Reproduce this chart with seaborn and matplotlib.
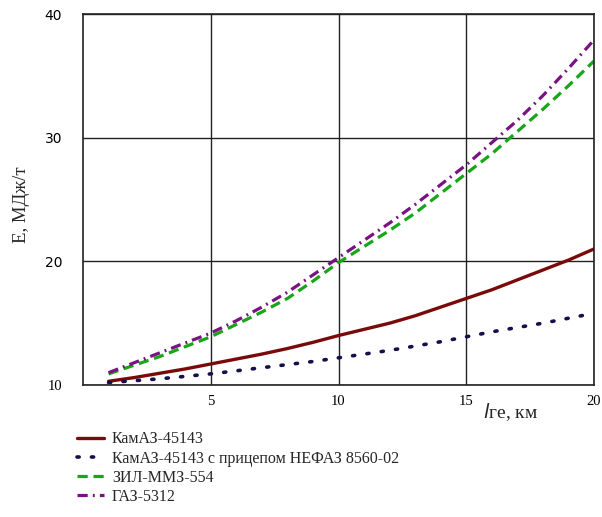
import matplotlib
matplotlib.use("Agg")
import matplotlib.pyplot as plt
import seaborn as sns
import pandas as pd

x_km = list(range(1, 21))
kamaz = [10.3, 10.6, 10.95, 11.3, 11.7, 12.1, 12.5, 12.95, 13.45, 14.0,
         14.5, 15.0, 15.6, 16.3, 17.0, 17.7, 18.5, 19.3, 20.1, 21.0]
kamaz_trailer = [10.2, 10.35, 10.5, 10.7, 10.9, 11.15, 11.4, 11.65, 11.9, 12.2,
                 12.5, 12.8, 13.15, 13.5, 13.9, 14.3, 14.65, 15.0, 15.4, 15.8]
zil = [10.9, 11.6, 12.3, 13.1, 13.9, 14.9, 15.9, 17.0, 18.4, 19.9,
       21.2, 22.5, 23.9, 25.5, 27.1, 28.7, 30.5, 32.3, 34.2, 36.2]
gaz = [11.0, 11.8, 12.6, 13.4, 14.2, 15.2, 16.3, 17.5, 18.9, 20.3,
       21.7, 23.1, 24.6, 26.2, 27.8, 29.6, 31.4, 33.4, 35.6, 37.9]
names = ["КамАЗ-45143", "КамАЗ-45143 с прицепом НЕФАЗ 8560-02", "ЗИЛ-ММЗ-554", "ГАЗ-5312"]
x_ticks = [5, 10, 15, 20]
y_ticks = [10, 20, 30, 40]

sns.set_theme(style="white")
plt.rcParams['font.family'] = ['Liberation Serif', 'DejaVu Serif']

fig = plt.figure(figsize=(6.02, 5.17), dpi=100)
ax = fig.add_axes([0.1379, 0.2553, 0.8488, 0.7176])

series = [kamaz, kamaz_trailer, zil, gaz]
styles = [
    dict(color="#7a0a0a", linestyle="-", linewidth=2.4),
    dict(color="#14104a", linestyle=(0, (0.6, 3.4)), linewidth=2.6, dash_capstyle="round"),
    dict(color="#17a617", linestyle=(0, (3.2, 1.8)), linewidth=2.3),
    dict(color="#7a1382", linestyle=(0, (3.2, 1.6, 0.6, 1.6)), linewidth=2.3),
]
handles = []
for name, vals, st in zip(names, series, styles):
    df = pd.DataFrame({"x": x_km, "y": vals})
    sns.lineplot(data=df, x="x", y="y", ax=ax, **st)
    handles.append(ax.lines[-1])

ax.set_xlim(0, 20)
ax.set_ylim(10, 40)
ax.set_xticks(x_ticks)
ax.set_yticks(y_ticks)
ax.grid(True, color="#222222", linewidth=1.0)
for s in ax.spines.values():
    s.set_color("#222222")
    s.set_linewidth(1.2)
    s.set_visible(True)
ax.tick_params(axis="both", length=0, labelsize=10.5, colors="black")
ax.tick_params(axis="y", pad=15)
ax.tick_params(axis="x", pad=7)
ax.set_xlabel("")
ax.set_ylabel("")
for lbl in ax.get_yticklabels():
    if lbl.get_text() != "10":
        lbl.set_family(["DejaVu Sans"])
        lbl.set_fontsize(10)

fig.text(0.036, 0.605, "Е, МДж/т", fontsize=13.5, rotation=90, ha="center", va="center")
fig.text(0.802, 0.203, "$\\mathit{l}$ге, км", fontsize=14, ha="left", va="center")

fig.legend(handles, names, loc="upper left", bbox_to_anchor=(0.118, 0.178),
           frameon=False, fontsize=11.5, handlelength=1.65, handletextpad=0.5,
           labelspacing=0.2, borderaxespad=0)

fig.savefig("out.png", dpi=100)
